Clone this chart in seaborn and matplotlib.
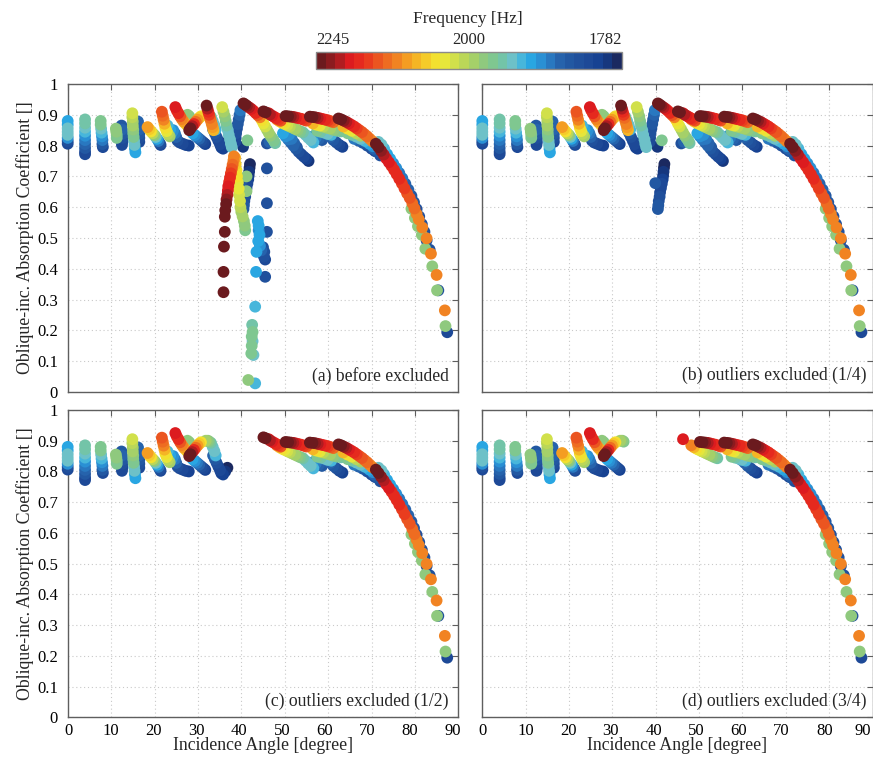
import matplotlib
matplotlib.use("Agg")
import matplotlib.pyplot as plt
import matplotlib.cm as mcm
import pandas as pd
import seaborn as sns
from matplotlib.colors import LinearSegmentedColormap, LogNorm
from matplotlib.ticker import FixedLocator, NullFormatter
from matplotlib.transforms import ScaledTranslation

# ---------------------------------------------------------------------------
# Measured points: (incidence angle [deg], absorption coefficient, frequency [Hz])
# ---------------------------------------------------------------------------
pos_00 = [(0.0, 0.880, 1909), (0.0, 0.868, 1909), (0.0, 0.856, 1932), (0.0, 0.845, 1943),
          (0.0, 0.835, 1932), (0.0, 0.825, 1888), (0.0, 0.815, 1844), (0.0, 0.806, 1823)]
pos_04 = [(4.0, 0.885, 1954), (4.0, 0.872, 1954), (4.0, 0.858, 1943), (4.0, 0.845, 1920),
          (4.0, 0.832, 1898), (4.0, 0.818, 1877), (4.0, 0.805, 1866), (4.0, 0.792, 1855),
          (4.0, 0.780, 1833), (4.0, 0.772, 1823)]
pos_08 = [(7.6, 0.880, 1966), (7.6, 0.868, 1960), (7.7, 0.855, 1943), (7.8, 0.842, 1920),
          (7.9, 0.830, 1898), (8.0, 0.818, 1877), (8.0, 0.805, 1855), (8.1, 0.795, 1823)]
pos_12 = [(12.4, 0.865, 1855), (12.5, 0.852, 1866), (12.6, 0.838, 1855), (12.6, 0.825, 1844),
          (12.6, 0.812, 1833), (12.5, 0.802, 1823), (11.1, 0.855, 1977), (11.2, 0.845, 1977),
          (11.3, 0.835, 1966), (11.3, 0.825, 1960)]
pos_15 = [(14.9, 0.905, 2023), (14.9, 0.892, 2012), (15.0, 0.878, 2000), (15.0, 0.865, 1988),
          (15.1, 0.852, 1977), (15.1, 0.840, 1966), (15.2, 0.828, 1960), (15.3, 0.815, 1943),
          (15.4, 0.802, 1932), (15.5, 0.790, 1909), (15.6, 0.778, 1909),
          (16.2, 0.878, 1866), (16.3, 0.865, 1855), (16.4, 0.852, 1866), (16.5, 0.838, 1855),
          (16.5, 0.825, 1844), (16.5, 0.812, 1833)]
pos_19 = [(18.4, 0.860, 2094), (18.8, 0.853, 2070), (19.2, 0.846, 2046), (19.6, 0.840, 2012),
          (20.0, 0.834, 1977), (20.3, 0.828, 1943), (20.6, 0.822, 1909), (20.9, 0.815, 1877),
          (21.2, 0.808, 1844), (21.4, 0.802, 1823)]
pos_22 = [(21.7, 0.910, 2143), (21.9, 0.897, 2130), (22.1, 0.884, 2106), (22.3, 0.871, 2082),
          (22.5, 0.858, 2058), (22.8, 0.847, 2035), (23.1, 0.838, 2012), (23.5, 0.830, 1988),
          (23.0, 0.865, 1920), (23.6, 0.852, 1909), (24.0, 0.842, 1898)]
pos_25 = [(24.8, 0.925, 2193), (25.1, 0.915, 2181), (25.5, 0.905, 2168), (25.9, 0.895, 2143),
          (26.3, 0.886, 2118), (26.7, 0.878, 2094), (27.1, 0.872, 2070), (27.5, 0.866, 2046),
          (27.6, 0.900, 1977), (28.0, 0.895, 1966),
          (24.3, 0.850, 1888), (24.7, 0.840, 1877), (25.0, 0.828, 1866), (25.3, 0.816, 1844),
          (25.8, 0.810, 1833), (26.5, 0.806, 1823), (27.2, 0.802, 1812), (27.9, 0.800, 1812)]
pos_28 = [(28.0, 0.850, 2245), (28.3, 0.856, 2232), (28.7, 0.863, 2206), (29.1, 0.870, 2168),
          (29.5, 0.877, 2130), (29.9, 0.884, 2094), (30.3, 0.890, 2070), (30.7, 0.895, 2046),
          (28.8, 0.840, 1909), (29.3, 0.834, 1898), (29.8, 0.828, 1877), (30.3, 0.822, 1866),
          (30.8, 0.816, 1844), (31.3, 0.810, 1823), (31.7, 0.805, 1812),
          (31.8, 0.900, 2000), (32.3, 0.900, 1977), (32.6, 0.897, 1966)]
pos_34 = [(33.0, 0.893, 1954), (33.4, 0.880, 1943), (33.8, 0.866, 1932), (34.1, 0.852, 1920),
          (33.5, 0.852, 1866), (33.9, 0.840, 1855), (34.3, 0.828, 1844), (34.7, 0.816, 1833),
          (35.1, 0.804, 1823), (35.4, 0.794, 1812), (35.8, 0.790, 1812), (36.3, 0.800, 1802),
          (36.8, 0.812, 1792)]
peak_32 = [(32.0, 0.930, 2232), (32.2, 0.920, 2206), (32.4, 0.910, 2181), (32.6, 0.900, 2156),
           (32.8, 0.890, 2130), (33.0, 0.880, 2118), (33.2, 0.870, 2106), (33.4, 0.860, 2094),
           (33.6, 0.850, 2082)]
peak_36 = [(35.6, 0.925, 2023), (35.9, 0.910, 2000), (36.2, 0.895, 1977), (36.4, 0.880, 1960),
           (36.6, 0.865, 1954), (36.9, 0.850, 1943), (37.1, 0.835, 1938), (37.4, 0.820, 1932),
           (37.6, 0.806, 1932), (37.8, 0.795, 1932)]
pos_39 = [(39.8, 0.915, 1877), (39.6, 0.900, 1866), (39.4, 0.885, 1855), (39.2, 0.870, 1855),
          (39.0, 0.855, 1844), (38.8, 0.840, 1844), (38.7, 0.825, 1833), (38.6, 0.812, 1823),
          (40.4, 0.796, 1802), (41.4, 0.817, 1966)]
peak_40 = [(40.5, 0.937, 2245), (40.9, 0.933, 2232), (41.3, 0.929, 2219), (41.8, 0.924, 2206),
           (42.3, 0.919, 2193), (42.8, 0.913, 2181), (43.3, 0.906, 2168), (43.8, 0.899, 2143),
           (44.3, 0.892, 2118)]
low_41 = [(42.0, 0.740, 1792), (41.9, 0.728, 1792), (41.8, 0.715, 1802), (41.7, 0.702, 1802),
          (41.6, 0.690, 1812), (41.4, 0.676, 1823), (41.2, 0.662, 1823), (41.0, 0.648, 1833),
          (40.9, 0.634, 1844), (40.7, 0.620, 1844), (40.6, 0.606, 1855), (40.5, 0.594, 1855),
          (39.9, 0.678, 1855)]
slope_45 = [(44.7, 0.883, 2058), (45.1, 0.872, 2035), (45.5, 0.862, 2023), (45.9, 0.852, 2000),
            (46.3, 0.842, 1988), (46.7, 0.832, 1977), (47.1, 0.824, 1966), (47.5, 0.816, 1960),
            (47.8, 0.808, 1954), (45.9, 0.807, 1844), (46.5, 0.812, 1866)]
ridge_45 = [(45.1, 0.911, 2245), (45.6, 0.908, 2232), (46.6, 0.901, 2206), (47.1, 0.897, 2193),
            (47.6, 0.893, 2181), (48.1, 0.889, 2168), (48.6, 0.885, 2156), (49.1, 0.881, 2143)]
dot_46 = [(46.3, 0.905, 2193)]
ridge_50 = [(50.2, 0.896, 2245), (50.8, 0.895, 2232), (51.4, 0.894, 2219), (52.0, 0.893, 2206),
            (52.6, 0.891, 2193), (53.2, 0.889, 2181), (53.8, 0.887, 2168), (54.4, 0.884, 2156),
            (55.0, 0.881, 2143)]
band_50 = [(48.2, 0.885, 2106), (48.8, 0.879, 2082), (49.4, 0.874, 2058), (50.0, 0.870, 2035),
           (50.6, 0.866, 2023), (51.2, 0.862, 2012), (51.8, 0.858, 2000), (52.4, 0.854, 1988),
           (53.0, 0.850, 1977), (53.6, 0.846, 1966), (54.2, 0.843, 1954)]
fringe_55 = [(54.8, 0.835, 1943), (55.4, 0.826, 1932), (56.0, 0.818, 1932), (56.6, 0.810, 1920),
             (56.5, 0.830, 1888), (57.2, 0.826, 1877), (57.9, 0.822, 1866), (58.6, 0.818, 1855)]
streak_52 = [(49.6, 0.840, 1909), (50.2, 0.830, 1888), (50.8, 0.820, 1877), (51.4, 0.810, 1866),
             (52.0, 0.800, 1866), (52.6, 0.790, 1855), (53.2, 0.780, 1844), (53.8, 0.772, 1833),
             (54.4, 0.764, 1823), (55.0, 0.757, 1812), (55.5, 0.750, 1802),
             (51.0, 0.835, 1888), (51.6, 0.822, 1877), (52.2, 0.808, 1866), (52.8, 0.795, 1855)]
ridge_56 = [(55.8, 0.894, 2245), (56.4, 0.893, 2232), (57.0, 0.892, 2219), (57.6, 0.890, 2206),
            (58.2, 0.888, 2193), (58.8, 0.886, 2181), (59.4, 0.884, 2168), (60.0, 0.882, 2156),
            (60.6, 0.879, 2143), (61.2, 0.876, 2130)]
band_56 = [(56.5, 0.872, 2082), (57.3, 0.868, 2058), (58.1, 0.865, 2035), (58.9, 0.862, 2012),
           (59.7, 0.858, 2000), (60.5, 0.855, 1988), (61.3, 0.851, 1977), (62.2, 0.848, 1966),
           (63.0, 0.846, 1954),
           (57.5, 0.848, 1966), (58.3, 0.845, 1954), (59.1, 0.842, 1943), (59.9, 0.838, 1932),
           (60.7, 0.835, 1920), (59.8, 0.837, 1877), (60.5, 0.828, 1866), (61.2, 0.818, 1855),
           (61.9, 0.810, 1844), (62.6, 0.802, 1833), (63.3, 0.796, 1812)]
ridge_62 = [(62.4, 0.888, 2245), (63.0, 0.885, 2232), (63.6, 0.881, 2219), (64.2, 0.877, 2206),
            (64.8, 0.872, 2193), (65.4, 0.867, 2181), (66.0, 0.862, 2168), (66.6, 0.856, 2156),
            (67.2, 0.850, 2143), (67.8, 0.844, 2143), (68.4, 0.837, 2130), (69.0, 0.830, 2130),
            (69.6, 0.822, 2118), (70.2, 0.814, 2118)]
band_62 = [(63.5, 0.862, 2082), (64.5, 0.855, 2058), (65.5, 0.848, 2035), (66.5, 0.840, 2012),
           (67.5, 0.832, 2000), (64.5, 0.840, 1966), (65.5, 0.835, 1954), (66.5, 0.829, 1943),
           (67.5, 0.822, 1932), (68.5, 0.815, 1920), (69.5, 0.806, 1909), (70.3, 0.798, 1898),
           (66.0, 0.822, 1877), (67.0, 0.816, 1866), (68.0, 0.809, 1855), (69.0, 0.800, 1844),
           (70.0, 0.790, 1833), (70.8, 0.782, 1823)]
tail_71 = [(71.0, 0.806, 2245), (71.6, 0.795, 2232), (72.2, 0.783, 2219), (72.8, 0.771, 2206),
           (73.4, 0.758, 2193), (74.0, 0.746, 2193), (74.6, 0.734, 2181), (75.2, 0.721, 2181),
           (75.8, 0.707, 2168), (76.4, 0.692, 2168), (77.0, 0.677, 2156), (77.6, 0.661, 2156),
           (78.2, 0.645, 2143), (78.8, 0.630, 2143), (79.4, 0.613, 2130), (79.9, 0.596, 2130),
           (80.4, 0.578, 2118), (80.9, 0.560, 2118),
           (81.7, 0.534, 2118), (82.7, 0.499, 2118), (83.7, 0.449, 2118), (85.0, 0.380, 2118),
           (86.9, 0.265, 2118)]
tail_mid = [(79.2, 0.595, 1977), (80.0, 0.565, 1977), (80.7, 0.538, 1977), (81.6, 0.510, 1977),
            (82.4, 0.465, 1977), (84.0, 0.408, 1977), (85.1, 0.330, 1977), (87.05, 0.214, 1977)]
tail_low = [(71.6, 0.812, 1932), (72.3, 0.803, 1932), (72.9, 0.790, 1920), (73.6, 0.772, 1909),
            (74.3, 0.757, 1909), (75.0, 0.742, 1898), (75.7, 0.727, 1888), (76.4, 0.711, 1877),
            (77.1, 0.694, 1877), (77.8, 0.676, 1866), (78.5, 0.657, 1866), (79.2, 0.637, 1855),
            (79.8, 0.616, 1855), (80.4, 0.594, 1844), (81.0, 0.570, 1844), (81.6, 0.545, 1844),
            (82.2, 0.520, 1844), (82.7, 0.492, 1844), (83.4, 0.462, 1844), (85.4, 0.330, 1844),
            (87.45, 0.194, 1833), (70.5, 0.790, 1866), (71.3, 0.780, 1855), (72.0, 0.768, 1844)]
drop_37 = [(38.3, 0.765, 2106), (38.2, 0.752, 2118), (38.0, 0.738, 2130), (37.8, 0.724, 2143),
           (37.6, 0.710, 2156), (37.4, 0.696, 2168), (37.2, 0.682, 2181), (37.0, 0.668, 2193),
           (36.9, 0.654, 2193), (36.8, 0.640, 2206), (36.6, 0.625, 2219), (36.5, 0.610, 2232),
           (36.3, 0.590, 2245), (36.2, 0.569, 2245), (36.2, 0.520, 2245), (36.0, 0.472, 2245),
           (35.9, 0.390, 2245), (35.9, 0.324, 2245)]
drop_40 = [(38.6, 0.760, 2082), (38.7, 0.740, 2070), (38.9, 0.720, 2058), (39.0, 0.700, 2046),
           (39.2, 0.680, 2035), (39.4, 0.660, 2035), (39.5, 0.640, 2023), (39.7, 0.620, 2023),
           (39.8, 0.600, 2012), (40.0, 0.585, 2000), (40.3, 0.570, 1988), (40.6, 0.555, 1977),
           (40.8, 0.540, 1977), (40.9, 0.525, 1966), (41.2, 0.700, 1977), (41.2, 0.652, 1977)]
drop_43 = [(43.8, 0.555, 1909), (44.0, 0.540, 1909), (44.0, 0.525, 1898), (44.2, 0.510, 1909),
           (43.9, 0.490, 1909), (44.3, 0.475, 1888), (44.6, 0.460, 1866), (45.0, 0.470, 1844),
           (45.3, 0.455, 1844), (45.2, 0.440, 1844), (45.5, 0.430, 1833), (43.5, 0.455, 1909),
           (43.4, 0.390, 1909), (45.5, 0.374, 1844), (45.9, 0.520, 1844), (45.9, 0.613, 1844),
           (45.9, 0.726, 1844)]
drop_42 = [(43.2, 0.277, 1920), (42.5, 0.218, 1954), (42.6, 0.195, 1960), (42.4, 0.180, 1960),
           (42.6, 0.165, 1943), (42.4, 0.150, 1966), (42.3, 0.125, 1966), (42.8, 0.120, 1932),
           (41.6, 0.039, 1977), (43.2, 0.028, 1920)]

# Exclusion stage of each group: a group is kept in panel k while stage >= k
GROUPS = [
    (pos_00, 3), (pos_04, 3), (pos_08, 3), (pos_12, 3), (pos_15, 3), (pos_19, 3),
    (pos_22, 3), (pos_25, 3), (pos_28, 3), (pos_34, 2), (peak_32, 1), (peak_36, 1),
    (pos_39, 1), (peak_40, 1), (low_41, 1), (slope_45, 1), (ridge_45, 2), (dot_46, 3),
    (ridge_50, 3), (band_50, 3), (fringe_55, 2), (streak_52, 1), (ridge_56, 3),
    (band_56, 3), (ridge_62, 3), (band_62, 3), (tail_71, 3), (tail_mid, 3), (tail_low, 3),
    (drop_37, 0), (drop_40, 0), (drop_43, 0), (drop_42, 0),
]

PANEL_TITLES = ["(a) before excluded", "(b) outliers excluded (1/4)",
                "(c) outliers excluded (1/2)", "(d) outliers excluded (3/4)"]
X_TICKS = [0, 10, 20, 30, 40, 50, 60, 70, 80, 90]
Y_TICKS = [0, 0.1, 0.2, 0.3, 0.4, 0.5, 0.6, 0.7, 0.8, 0.9, 1]
Y_TICK_LABELS = ["0", "0.1", "0.2", "0.3", "0.4", "0.5", "0.6", "0.7", "0.8", "0.9", "1"]
FREQ_LOW, FREQ_HIGH = 1782, 2245
CBAR_TICKS = [2245, 2000, 1782]

# colour scale, low frequency (navy) to high frequency (maroon)
SCALE_COLORS = ["#1b2960", "#143f8f", "#1e4a98", "#21549f", "#2765ae", "#2a8ad0",
                "#29ade6", "#6cc1cd", "#76c59b", "#8ec97f", "#b0d35f", "#d2e04a",
                "#f2e931", "#f5c828", "#f5a522", "#f07d22", "#ec5a20", "#e8331e",
                "#e01b1f", "#9c1c20", "#6b1a1e"]

# ---------------------------------------------------------------------------
rows = []
for pts, stage in GROUPS:
    for ang, coef, freq in pts:
        rows.append({"angle": ang, "alpha": coef, "freq": freq, "stage": stage})
df = pd.DataFrame(rows).sort_values("freq", kind="stable").reset_index(drop=True)

sns.set_style("white")
plt.rcParams["font.family"] = ["Liberation Serif", "DejaVu Serif"]

cmap = LinearSegmentedColormap.from_list("freq_scale", SCALE_COLORS, N=32)
norm = LogNorm(vmin=FREQ_LOW, vmax=FREQ_HIGH)

W, H = 873, 761
fig = plt.figure(figsize=(W / 100, H / 100), dpi=100)

boxes = [
    (67.7, 84.0, 458.3, 392.0),
    (482.3, 84.0, 872.5, 392.0),
    (67.7, 410.0, 458.3, 717.3),
    (482.3, 410.0, 872.5, 717.3),
]
spine_col = "#5e5e5e"

for k, (x0, y0, x1, y1) in enumerate(boxes):
    ax = fig.add_axes([x0 / W, 1 - y1 / H, (x1 - x0) / W, (y1 - y0) / H])
    sub = df[df["stage"] >= k]
    sns.scatterplot(data=sub, x="angle", y="alpha", hue="freq", palette=cmap,
                    hue_norm=norm, s=72, linewidth=0, edgecolor="none",
                    legend=False, ax=ax, clip_on=False, zorder=3)
    ax.set_xlim(0, 90)
    ax.set_ylim(0, 1)
    ax.set_xticks(X_TICKS)
    ax.set_yticks(Y_TICKS)
    ax.grid(True, linestyle=(0, (1, 2.5)), color="#c9c9c9", linewidth=0.8)
    ax.set_axisbelow(True)
    for sp in ax.spines.values():
        sp.set_color(spine_col)
        sp.set_linewidth(1.0)
    ax.tick_params(axis="both", direction="in", length=4, width=0.8, color=spine_col,
                   top=True, right=True, labelsize=12, labelcolor="black")
    ax.tick_params(axis="y", pad=7)
    ax.tick_params(axis="x", pad=4)

    left = k % 2 == 0
    bottom = k >= 2
    if left:
        ax.set_yticklabels(Y_TICK_LABELS)
        ax.set_ylabel("Oblique-inc. Absorption Coefficient []", fontsize=12.8, labelpad=2)
    else:
        ax.set_yticklabels([])
        ax.set_ylabel("")
    if bottom:
        ax.set_xticklabels([str(t) for t in X_TICKS])
        ax.set_xlabel("Incidence Angle [degree]", fontsize=12.8, labelpad=-1)
        # tick numbers sit slightly left of their marks, increasingly so to the right
        for i, lab in enumerate(ax.get_xticklabels()):
            shift_px = 0.6 - 0.68 * i
            if not left and i == len(X_TICKS) - 1:
                shift_px = -9.5
            lab.set_transform(lab.get_transform()
                              + ScaledTranslation(shift_px / 100.0, 0, fig.dpi_scale_trans))
    else:
        ax.set_xticklabels([])
        ax.set_xlabel("")
    ax.text(0.975 if left else 0.984, 0.053, PANEL_TITLES[k], transform=ax.transAxes,
            ha="right", va="center", fontsize=12.7)

# colour bar
cax = fig.add_axes([316 / W, 1 - 69.3 / H, 306 / W, 17.6 / H])
sm = mcm.ScalarMappable(norm=norm, cmap=cmap)
cb = fig.colorbar(sm, cax=cax, orientation="horizontal")
cb.ax.invert_xaxis()
cb.set_ticks(CBAR_TICKS, labels=[str(t) for t in CBAR_TICKS])
cax.xaxis.set_minor_locator(FixedLocator(
    [FREQ_HIGH * (FREQ_LOW / FREQ_HIGH) ** (i / 10) for i in range(1, 10)]))
cax.xaxis.set_minor_formatter(NullFormatter())
cax.tick_params(which="major", length=0, top=True, bottom=False,
                labeltop=True, labelbottom=False, labelsize=12, pad=3)
cax.tick_params(which="minor", direction="in", length=3, width=0.7, color="#444444",
                top=True, bottom=True)
for tick in cax.xaxis.get_major_ticks():
    val = tick.get_loc()
    if abs(val - FREQ_HIGH) < 1:
        tick.label2.set_horizontalalignment("left")
    elif abs(val - FREQ_LOW) < 1:
        tick.label2.set_horizontalalignment("right")
cb.outline.set_edgecolor("#8a8a8a")
cb.outline.set_linewidth(1.0)
fig.text(468 / W, 1 - 19 / H, "Frequency [Hz]", ha="center", va="center", fontsize=12.5)

fig.savefig("out.png", dpi=100)
